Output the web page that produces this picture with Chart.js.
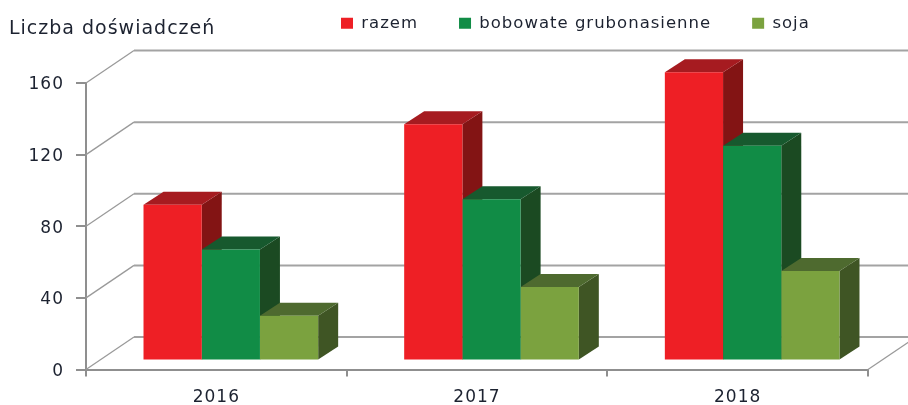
<!DOCTYPE html>
<html><head><meta charset="utf-8">
<style>html,body{margin:0;padding:0;background:#fff}#w{width:908px;height:405px}</style>
<script src="https://cdn.jsdelivr.net/npm/chart.js@4"></script></head>
<body><div id="w"><canvas id="c" width="908" height="405"></canvas></div>
<script>
const categories = ["2016", "2017", "2018"];
const razem = [87, 132, 161];
const bobowate = [62, 90, 120];
const soja = [25, 41, 50];
const seriesNames = ["razem", "bobowate grubonasienne", "soja"];
const yTicks = [0, 40, 80, 120, 160];

const INK = "#1c2230", AXIS = "#8f8f8f";
const FONT = "'DejaVu Sans'";
const front = ["#ee1f25", "#118c46", "#7ba23f"];
const topFace = ["#a61b20", "#17592e", "#4e6a2f"];
const sideFace = ["#831414", "#1b4a22", "#3f5524"];
const BAR_SHIFT = {x: 14.5, y: -9};
const DEPTH = {x: 20, y: -13};
const WALL = {x: 48, y: -32.5};

const poly = (ctx, pts, fill) => {
  ctx.beginPath(); pts.forEach((p, i) => i ? ctx.lineTo(p[0], p[1]) : ctx.moveTo(p[0], p[1]));
  ctx.closePath(); ctx.fillStyle = fill; ctx.fill();
};

const threeD = {
  id: "threeD",
  beforeUpdate(chart) { chart.ctx.letterSpacing = "1px"; },
  beforeLayout(chart) {
    const l = chart.legend;
    if (l && !l._flat) {
      const fit = l.fit;
      l.fit = function () { fit.call(this); this._fullH = this.height; this.height = 0; };
      l._flat = true;
    }
  },
  afterLayout(chart) {
    const l = chart.legend;
    const pad = l.options.labels.padding;
    l.left = 341 - pad; l.right = 908;
    l.top = 15 - pad; l.bottom = l.top + l._fullH;
  },
  beforeDatasetsDraw(chart) {
    const {ctx, scales: {x, y}, chartArea: a} = chart;
    ctx.save();
    yTicks.forEach(v => {
      const py = y.getPixelForValue(v);
      ctx.strokeStyle = "#9a9a9a"; ctx.lineWidth = 1.3;
      ctx.beginPath(); ctx.moveTo(a.left, py); ctx.lineTo(a.left + WALL.x, py + WALL.y); ctx.stroke();
      ctx.strokeStyle = "#a3a3a3"; ctx.lineWidth = 2;
      ctx.beginPath(); ctx.moveTo(a.left + WALL.x, py + WALL.y); ctx.lineTo(908, py + WALL.y); ctx.stroke();
    });
    ctx.strokeStyle = "#9a9a9a"; ctx.lineWidth = 1.3;
    const y0 = y.getPixelForValue(0);
    ctx.beginPath(); ctx.moveTo(a.right, y0); ctx.lineTo(a.right + WALL.x, y0 + WALL.y); ctx.stroke();
    ctx.translate(BAR_SHIFT.x, BAR_SHIFT.y);
    chart.data.datasets.forEach((ds, i) => {
      chart.getDatasetMeta(i).data.forEach(b => {
        const L = b.x - b.width / 2, R = b.x + b.width / 2, T = b.y, B = b.base;
        poly(ctx, [[R, T], [R + DEPTH.x, T + DEPTH.y], [R + DEPTH.x, B + DEPTH.y], [R, B]], sideFace[i]);
        poly(ctx, [[L, T], [L + DEPTH.x, T + DEPTH.y], [R + DEPTH.x, T + DEPTH.y], [R, T]], topFace[i]);
      });
    });
  },
  afterDatasetsDraw(chart) { chart.ctx.restore(); }
};

new Chart(document.getElementById("c"), {
  type: "bar",
  plugins: [threeD],
  data: {
    labels: categories,
    datasets: [razem, bobowate, soja].map((d, i) => ({
      label: seriesNames[i], data: d, backgroundColor: front[i], borderWidth: 0,
      barPercentage: 1, categoryPercentage: 0.67, clip: false
    }))
  },
  options: {
    responsive: false, animation: false,
    layout: {padding: {left: 9, right: 40, top: 0, bottom: 0}},
    plugins: {
      tooltip: {enabled: false},
      title: {display: true, text: "Liczba doświadczeń", align: "start", color: INK,
        font: {family: FONT, size: 19, weight: "normal", lineHeight: 1.2},
        padding: {top: 17.6, bottom: 42.6}},
      legend: {display: true, position: "top", align: "start",
        labels: {boxWidth: 12, boxHeight: 11, padding: 41, color: INK,
          font: {family: FONT, size: 16.5}}}
    },
    scales: {
      x: {
        afterFit(s) { s.height = 35.5; },
        grid: {drawOnChartArea: false, color: AXIS, lineWidth: 2, tickLength: 7},
        border: {color: AXIS, width: 2},
        ticks: {color: INK, font: {family: FONT, size: 17}, padding: 11, maxRotation: 0}
      },
      y: {
        min: 0, max: 160,
        afterFit(s) { s.width = 77; },
        grid: {drawOnChartArea: false, color: AXIS, lineWidth: 2, tickLength: 10},
        border: {color: AXIS, width: 2},
        afterBuildTicks(s) { s.ticks = yTicks.map(v => ({value: v})); },
        ticks: {color: INK, font: {family: FONT, size: 17}, padding: 12, labelOffset: 2}
      }
    }
  }
});
</script></body></html>
